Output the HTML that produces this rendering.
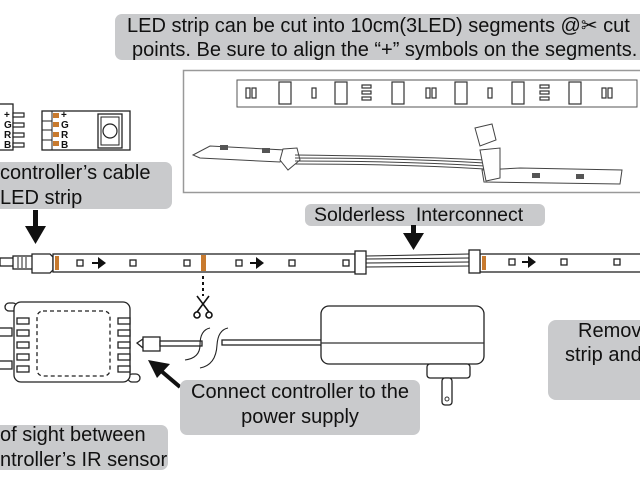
<!DOCTYPE html>
<html><head><meta charset="utf-8"><style>
html,body{margin:0;padding:0;background:#fff;}
svg{display:block;}
text{font-family:"Liberation Sans",Arial,sans-serif;fill:#111;}
</style></head><body>
<svg width="640" height="480" viewBox="0 0 640 480" xmlns="http://www.w3.org/2000/svg">
<rect x="115" y="14" width="545" height="46" rx="7" fill="#c9cacc"/>
<text x="127" y="32" font-size="20">LED strip can be cut into 10cm(3LED) segments @✂ cut</text>
<text x="132" y="56" font-size="20">points. Be sure to align the “+” symbols on the segments.</text>

<rect x="183.5" y="70.5" width="470" height="122" fill="#fff" stroke="#999" stroke-width="1.5"/>
<rect x="237" y="80" width="400" height="27" fill="#fff" stroke="#555" stroke-width="1"/>
<g fill="#fff" stroke="#333" stroke-width="1.2">
<rect x="246" y="88" width="4" height="10"/><rect x="252" y="88" width="4" height="10"/>
<rect x="279" y="82" width="12" height="22"/><rect x="312" y="88" width="4" height="10"/>
<rect x="335" y="82" width="12" height="22"/><rect x="362" y="85" width="9" height="3"/><rect x="362" y="91" width="9" height="3"/><rect x="362" y="97" width="9" height="3"/>
<rect x="392" y="82" width="12" height="22"/><rect x="426" y="88" width="4" height="10"/><rect x="432" y="88" width="4" height="10"/>
<rect x="455" y="82" width="12" height="22"/><rect x="488" y="88" width="4" height="10"/>
<rect x="512" y="82" width="12" height="22"/><rect x="540" y="85" width="9" height="3"/><rect x="540" y="91" width="9" height="3"/><rect x="540" y="97" width="9" height="3"/>
<rect x="569" y="82" width="12" height="22"/><rect x="602" y="88" width="4" height="10"/><rect x="608" y="88" width="4" height="10"/>
</g>
<g fill="#fff" stroke="#444" stroke-width="1">
<path d="M193 155 L210 146 L285 150 L280 162 L200 158 Z"/>
<path d="M482 170 L520 168 L622 170 L620 184 L484 182 Z"/>
<path d="M283 149 L297 148 L300 160 L288 170 L280 160Z"/>
<path d="M295 155 Q400 156 485 160 M295 158 Q400 158 485 163 M295 161 Q400 161 485 166 M295 164 Q400 164 485 169"/>
<path d="M475 128 L492 124 L496 140 L480 146 Z"/>
<path d="M480 150 L500 148 L500 178 L486 181 Z"/>
</g>
<g fill="#555"><rect x="220" y="145" width="8" height="5"/><rect x="262" y="148" width="8" height="5"/><rect x="532" y="173" width="8" height="5"/><rect x="576" y="174" width="8" height="5"/></g>

<rect x="-2" y="104" width="15" height="46" fill="#fff" stroke="#222" stroke-width="1.3"/>
<g fill="#fff" stroke="#222" stroke-width="1.2"><rect x="13" y="113" width="11" height="4"/><rect x="13" y="123" width="11" height="4"/><rect x="13" y="133" width="11" height="4"/><rect x="13" y="143" width="11" height="4"/></g>
<g font-size="10" font-weight="bold"><text x="4" y="118">+</text><text x="4" y="128">G</text><text x="4" y="138">R</text><text x="4" y="148">B</text></g>
<rect x="42" y="111" width="88" height="39" fill="#fff" stroke="#222" stroke-width="1.3"/>
<line x1="52" y1="111" x2="52" y2="150" stroke="#222"/>
<g stroke="#222"><line x1="42" y1="121" x2="52" y2="121"/><line x1="42" y1="130" x2="52" y2="130"/><line x1="42" y1="140" x2="52" y2="140"/></g>
<g fill="#c87a2e"><rect x="53" y="113" width="6" height="5"/><rect x="53" y="122" width="6" height="5"/><rect x="53" y="132" width="6" height="5"/><rect x="53" y="141" width="6" height="5"/></g>
<g font-size="10" font-weight="bold"><text x="61" y="118">+</text><text x="61" y="128">G</text><text x="61" y="138">R</text><text x="61" y="148">B</text></g>
<rect x="98" y="114" width="24" height="34" fill="#fff" stroke="#222" stroke-width="1.3"/>
<rect x="101" y="117" width="18" height="28" fill="#fff" stroke="#222"/>
<circle cx="110" cy="131" r="7" fill="#fff" stroke="#222" stroke-width="1.2"/>

<rect x="-10" y="162" width="182" height="47" rx="7" fill="#c9cacc"/>
<text x="0" y="179" font-size="20">controller’s cable</text>
<text x="0" y="204" font-size="20">LED strip</text>
<rect x="33" y="210" width="5" height="18" fill="#111"/>
<polygon points="25,226 46,226 35.5,244" fill="#111"/>

<g stroke="#222" stroke-width="1.3" fill="#fff">
<rect x="0" y="258" width="14" height="8"/>
<rect x="13" y="256" width="20" height="13"/>
<path d="M32 254 L50 254 L53 257 L53 270 L50 273 L32 273 Z"/>
<rect x="53" y="254" width="302" height="18"/>
<rect x="480" y="254" width="170" height="18"/>
<rect x="355" y="251" width="11" height="23"/>
<rect x="469" y="250" width="11" height="23"/>
</g>
<g stroke="#222" stroke-width="1"><line x1="366" y1="256" x2="469" y2="254"/><line x1="366" y1="259" x2="469" y2="258"/><line x1="366" y1="263" x2="469" y2="262"/><line x1="366" y1="267" x2="469" y2="266"/></g>
<g stroke="#222" stroke-width="1"><line x1="18" y1="257" x2="18" y2="268"/><line x1="22" y1="257" x2="22" y2="268"/><line x1="26" y1="257" x2="26" y2="268"/></g>
<g fill="#c87a2e"><rect x="55" y="256" width="4" height="14"/><rect x="201" y="255" width="5" height="16"/><rect x="482" y="256" width="4" height="14"/></g>
<g fill="#fff" stroke="#222" stroke-width="1.3">
<rect x="77" y="260" width="6" height="6"/><rect x="130" y="260" width="6" height="6"/><rect x="184" y="260" width="6" height="6"/><rect x="236" y="260" width="6" height="6"/><rect x="289" y="260" width="6" height="6"/><rect x="343" y="260" width="6" height="6"/>
<rect x="509" y="259" width="6" height="6"/><rect x="561" y="259" width="6" height="6"/><rect x="614" y="259" width="6" height="6"/>
</g>
<g fill="#111"><path d="M92 262 h6 v-5 l8 6 l-8 6 v-5 h-6z"/><path d="M250 262 h6 v-5 l8 6 l-8 6 v-5 h-6z"/><path d="M522 261 h6 v-5 l8 6 l-8 6 v-5 h-6z"/></g>

<rect x="305" y="204" width="240" height="22" rx="6" fill="#c9cacc"/>
<text x="314" y="221" font-size="19.5" xml:space="preserve">Solderless  Interconnect</text>
<rect x="411" y="225" width="5" height="9" fill="#111"/>
<polygon points="403,233 424,233 413.5,250" fill="#111"/>

<line x1="203" y1="276" x2="203" y2="296" stroke="#111" stroke-width="2" stroke-dasharray="3,3"/>
<g stroke="#111" stroke-width="1.6" fill="none">
<line x1="197" y1="296" x2="209" y2="312"/><line x1="209" y1="296" x2="197" y2="312"/>
<circle cx="197" cy="315" r="3"/><circle cx="209" cy="315" r="3"/>
</g>

<g fill="#fff" stroke="#222" stroke-width="1.3">
<rect x="5" y="303" width="12" height="8" rx="4"/><rect x="128" y="374" width="12" height="8" rx="4"/>
<rect x="-2" y="328" width="14" height="8"/><rect x="-2" y="361" width="14" height="8"/>
<rect x="14" y="302" width="116" height="80" rx="7"/>
<rect x="17" y="318" width="12" height="6"/><rect x="17" y="330" width="12" height="6"/><rect x="17" y="342" width="12" height="6"/><rect x="17" y="354" width="12" height="6"/><rect x="17" y="366" width="12" height="6"/>
<rect x="118" y="318" width="12" height="6"/><rect x="118" y="330" width="12" height="6"/><rect x="118" y="342" width="12" height="6"/><rect x="118" y="354" width="12" height="6"/><rect x="118" y="366" width="12" height="6"/>
</g>
<rect x="37" y="311" width="73" height="65" rx="6" fill="none" stroke="#222" stroke-width="1.3" stroke-dasharray="4,3"/>
<g fill="#fff" stroke="#222" stroke-width="1.3">
<path d="M137 343 l6 -4 v9 z"/><rect x="143" y="337" width="17" height="14"/>
<rect x="160" y="341" width="42" height="5"/><rect x="222" y="340" width="100" height="5"/>
<rect x="321" y="306" width="163" height="58" rx="8"/>
<rect x="427" y="364" width="43" height="14" rx="3"/><rect x="442" y="378" width="10" height="27" rx="3"/>
</g>
<line x1="321" y1="343" x2="484" y2="343" stroke="#333" stroke-width="1.3"/>
<circle cx="447" cy="399" r="2" fill="none" stroke="#333"/>
<path d="M210 328 Q200 330 200 345 Q200 358 185 360 M228 328 Q218 330 217 345 Q216 365 200 368" fill="none" stroke="#222" stroke-width="1.1"/>
<line x1="180" y1="387" x2="160" y2="370" stroke="#111" stroke-width="4"/>
<polygon points="148,360 170,364 157,378" fill="#111"/>

<rect x="180" y="380" width="240" height="55" rx="7" fill="#c9cacc"/>
<text x="300" y="398" font-size="20" text-anchor="middle">Connect controller to the</text>
<text x="300" y="423" font-size="20" text-anchor="middle">power supply</text>

<rect x="-10" y="425" width="178" height="45" rx="7" fill="#c9cacc"/>
<text x="0" y="441" font-size="20">of sight between</text>
<text x="0" y="466" font-size="20">ntroller’s IR sensor</text>

<rect x="548" y="320" width="110" height="80" rx="8" fill="#c9cacc"/>
<text x="578" y="337" font-size="20">Remov</text>
<text x="565" y="361" font-size="20">strip and</text>
</svg>
</body></html>
